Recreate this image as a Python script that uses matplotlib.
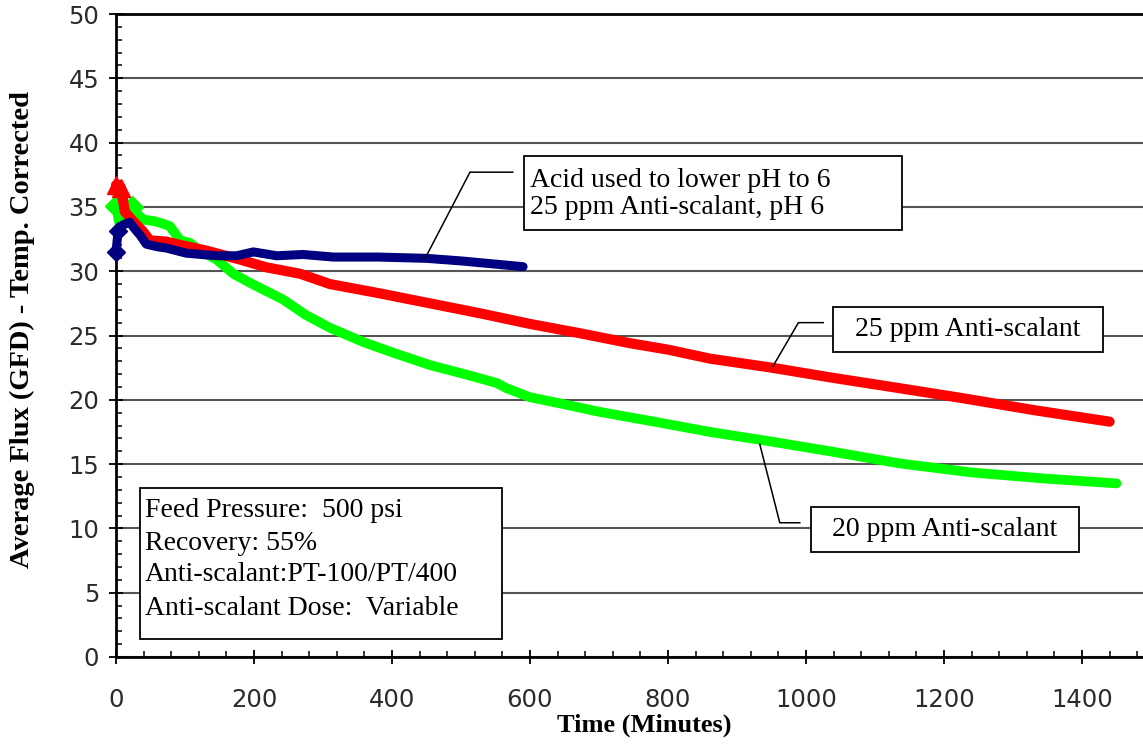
import matplotlib
matplotlib.use("Agg")
import matplotlib.pyplot as plt
from matplotlib.patches import Rectangle
from matplotlib.ticker import MultipleLocator

# ---- data ----
blue_x = [0, 3, 10, 20, 27, 35, 44, 60, 73, 102, 146, 175, 199, 233, 271, 315, 380, 450, 500, 550, 590]
blue_y = [31.5, 33.1, 33.6, 33.8, 33.3, 32.8, 32.1, 31.9, 31.8, 31.4, 31.2, 31.2, 31.5, 31.2, 31.3, 31.1,
          31.1, 31.0, 30.8, 30.55, 30.35]

red_x = [0, 7, 13, 23, 39, 49, 73, 97, 131, 180, 218, 267, 310, 380, 455, 530, 600, 670, 745, 800, 861,
         950, 1040, 1136, 1230, 1330, 1440]
red_y = [36.7, 36.5, 34.6, 34.0, 33.1, 32.4, 32.3, 32.0, 31.6, 30.9, 30.3, 29.8, 29.0, 28.3, 27.5, 26.7,
         25.9, 25.2, 24.4, 23.9, 23.2, 22.5, 21.7, 20.9, 20.1, 19.2, 18.3]

green_x = [0, 6, 23, 30, 40, 55, 68, 78, 93, 107, 122, 146, 170, 194, 242, 275, 310, 358, 405, 455, 505, 552,
           566, 600, 650, 697, 780, 861, 950, 1040, 1136, 1240, 1340, 1450]
green_y = [35.1, 33.4, 35.0, 34.5, 34.0, 33.9, 33.7, 33.5, 32.4, 32.2, 31.6, 30.9, 29.8, 29.1, 27.8, 26.6,
           25.6, 24.5, 23.6, 22.7, 22.0, 21.3, 20.9, 20.2, 19.65, 19.1, 18.3, 17.5, 16.75, 15.95, 15.05, 14.35,
           13.9, 13.5]

x_ticks = [0, 200, 400, 600, 800, 1000, 1200, 1400]
y_ticks = [0, 5, 10, 15, 20, 25, 30, 35, 40, 45, 50]

note_acid = "Acid used to lower pH to 6\n25 ppm Anti-scalant, pH 6"
note_25 = "25 ppm Anti-scalant"
note_20 = "20 ppm Anti-scalant"
note_params = ["Feed Pressure:  500 psi", "Recovery: 55%", "Anti-scalant:PT-100/PT/400",
               "Anti-scalant Dose:  Variable"]

# ---- figure ----
W, H = 1143, 750
fig = plt.figure(figsize=(W / 100, H / 100), dpi=100)
L, R, T, B = 116, 1151, 14, 657
ax = fig.add_axes([L / W, 1 - B / H, (R - L) / W, (B - T) / H])
ax.set_xlim(0, 1500)
ax.set_ylim(0, 50)

serif = "Liberation Serif"

ax.yaxis.grid(True, color="#555555", linewidth=1.5)
ax.set_axisbelow(True)

ax.plot(green_x, green_y, color="#00FF00", lw=7, marker="D", ms=11, mec="#00FF00", markevery=[0, 2],
        solid_capstyle="round", solid_joinstyle="round", zorder=3, clip_on=False)
ax.plot(red_x, red_y, color="#FF0000", lw=7.3, marker="^", ms=13, mec="#FF0000", markevery=[0, 1],
        solid_capstyle="round", solid_joinstyle="round", zorder=4, clip_on=False)
ax.plot(blue_x, blue_y, color="#000080", lw=6.5, marker="D", ms=9, mec="#000080", markevery=[0, 1],
        solid_capstyle="round", solid_joinstyle="round", zorder=5, clip_on=False)

# ticks
ax.set_xticks(x_ticks)
ax.set_yticks(y_ticks)
ax.xaxis.set_minor_locator(MultipleLocator(40))
ax.yaxis.set_minor_locator(MultipleLocator(1))
ax.tick_params(which="major", direction="inout", length=10, width=1.3, labelsize=17.5, colors="black")
ax.tick_params(which="minor", direction="in", length=4.5, width=1.1)
ax.tick_params(axis="x", which="major", pad=17.5)
ax.tick_params(axis="y", which="major", pad=7)
for lab in ax.get_xticklabels() + ax.get_yticklabels():
    lab.set_fontfamily("DejaVu Sans")
    lab.set_color("#2a2a2a")

for s in ax.spines.values():
    s.set_linewidth(2)
    s.set_color("black")

ax.set_xlabel("Time (Minutes)", fontfamily=serif, fontweight="bold", fontsize=19)
ax.xaxis.set_label_coords(0.51, -0.0875)
ax.set_ylabel("Average Flux (GFD) - Temp. Corrected", fontfamily=serif, fontweight="bold", fontsize=20.5)
ax.yaxis.set_label_coords(-0.078, 0.51)

# ---- annotation boxes ----
def box(x0, y0, x1, y1):
    ax.add_patch(Rectangle((x0, y0), x1 - x0, y1 - y0, facecolor="white", edgecolor="black", lw=1.3,
                           zorder=6))

fs = 20
box(591, 33.2, 1139, 38.98)
ax.text(600, 36.0, note_acid, fontfamily=serif, fontsize=fs, ha="left", va="center", zorder=7,
        linespacing=1.15)
ax.plot([448, 513, 575], [31.0, 37.7, 37.7], color="black", lw=1.1, zorder=6)

box(1039, 23.72, 1430, 27.22)
ax.text(1234, 25.47, note_25, fontfamily=serif, fontsize=fs, ha="center", va="center", zorder=7)
ax.plot([952, 989, 1025], [22.6, 26.0, 26.0], color="black", lw=1.1, zorder=6)

box(1007, 8.19, 1396, 11.66)
ax.text(1201, 9.95, note_20, fontfamily=serif, fontsize=fs, ha="center", va="center", zorder=7)
ax.plot([933, 962, 991], [16.55, 10.44, 10.44], color="black", lw=1.1, zorder=6)

box(34.8, 1.4, 559, 13.12)
for line, yy in zip(note_params, [11.43, 8.86, 6.38, 3.81]):
    ax.text(42, yy, line, fontfamily=serif, fontsize=fs, ha="left", va="center", zorder=7)

fig.savefig("out.png", dpi=100)
